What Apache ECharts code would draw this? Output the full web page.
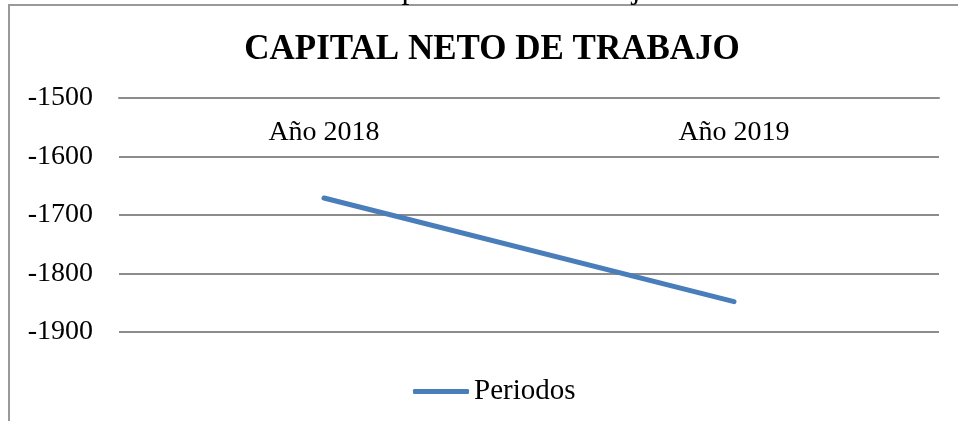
<!DOCTYPE html>
<html>
<head>
<meta charset="utf-8">
<script src="https://cdn.jsdelivr.net/npm/echarts@6/dist/echarts.min.js"></script>
<style>
  html, body { margin: 0; padding: 0; background: #fff; }
  #chart { width: 958px; height: 421px; }
</style>
</head>
<body>
<div id="chart"></div>
<script>
var categories = ['Año 2018', 'Año 2019'];
var periodos = [-1671, -1848];
var yTicks = [-1900, -1800, -1700, -1600, -1500];

var serif = '"Liberation Serif", "Times New Roman", serif';
var chart = echarts.init(document.getElementById('chart'));
var option = {
    backgroundColor: '#fff',
    animation: false,
    title: {
        text: 'CAPITAL NETO DE TRABAJO',
        left: 487,
        top: 27,
        textAlign: 'center',
        textStyle: { fontFamily: serif, fontSize: 35, fontWeight: 'bold', color: '#000' }
    },
    legend: {
        left: 408,
        top: 372,
        itemWidth: 56,
        itemHeight: 5,
        itemGap: 5,
        textStyle: { fontFamily: serif, fontSize: 29, color: '#000' },
        data: [{ name: 'Periodos', icon: 'roundRect' }]
    },
    grid: { left: 119, right: 19, top: 98, bottom: 89 },
    xAxis: {
        type: 'category',
        position: 'top',
        data: categories,
        axisLine: { lineStyle: { color: '#8c8c8c', width: 2 } },
        axisTick: { show: false },
        axisLabel: { inside: true, margin: 21, fontFamily: serif, fontSize: 28, color: '#000' }
    },
    yAxis: {
        type: 'value',
        min: yTicks[0],
        max: yTicks[yTicks.length - 1],
        interval: 100,
        axisLine: { show: false },
        axisTick: { show: false },
        splitLine: { lineStyle: { color: '#8c8c8c', width: 2 } },
        axisLabel: {
            margin: 26, fontFamily: serif, fontSize: 28, color: '#000',
            formatter: function (v) { return String(v); }
        }
    },
    graphic: [
        { type: 'line', shape: { x1: 9, y1: 4, x2: 9, y2: 421 }, style: { stroke: '#999', lineWidth: 2 } },
        { type: 'line', shape: { x1: 8, y1: 5, x2: 958, y2: 5 }, style: { stroke: '#999', lineWidth: 2 } },
        { type: 'text', left: 366, top: -26, style: { text: 'Capital neto de trabajo', font: '32px ' + serif, fill: '#000' } }
    ],
    series: [
        {
            name: 'Periodos',
            type: 'line',
            data: periodos,
            symbol: 'none',
            lineStyle: { color: '#4a7ebb', width: 5, cap: 'round' },
            itemStyle: { color: '#4a7ebb' }
        }
    ]
};
chart.setOption(option);
</script>
</body>
</html>
